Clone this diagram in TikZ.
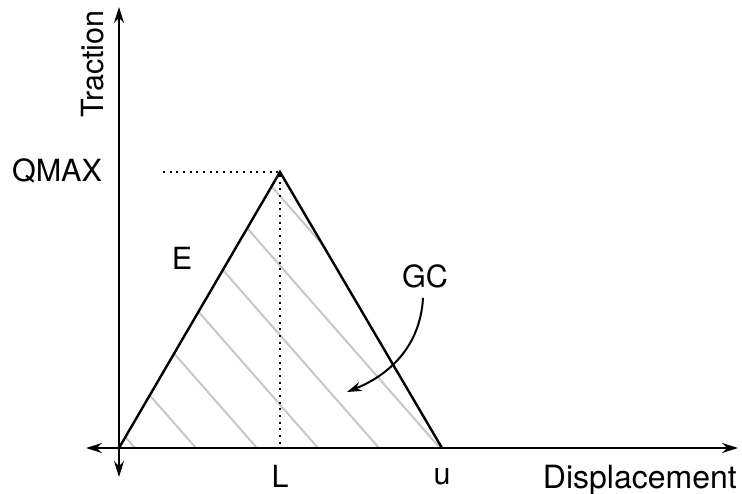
\documentclass[tikz,border=0pt]{standalone}
\usepackage{fontspec}
\setmainfont{TeX Gyre Heros}
\usetikzlibrary{arrows.meta, positioning, calc}

\begin{document}
\begin{tikzpicture}[
	x=0.75pt, y=0.75pt,
	font=\fontsize{22.9}{27}\selectfont,
	axis/.style={line width=1.5pt, {Stealth[length=12pt, width=7.5pt, inset=4pt]}-{Stealth[length=12pt, width=7.5pt, inset=4pt]}},
	law/.style={line width=1.8pt, line join=miter},
	guide/.style={line width=1.5pt, dash pattern=on 1.5pt off 3.5pt},
	hatch/.style={line width=1.5pt, black!22},
	lbl/.style={inner sep=0pt, anchor=base},
	pointer/.style={line width=1.5pt, -{Stealth[length=11pt, width=7pt, inset=3.5pt]}}
]

\useasboundingbox (-119,-45) rectangle (623,448);

% Points
\coordinate (O) at (0,0);
\coordinate (xmin) at (-33,0);
\coordinate (xmax) at (619,0);
\coordinate (ymin) at (0,-29);
\coordinate (ymax) at (0,441);
\coordinate (peak) at (161,276);
\coordinate (fail) at (323,0);
\coordinate (qstart) at (44,276);
\coordinate (lfoot) at (161,0);
\coordinate (gcarrow) at (228,56);

% Hatching
\begin{scope}
\clip (O) -- (peak) -- (fail) -- cycle;
\foreach \s in {16,77,...,382}
	\draw[hatch] (\s,0) -- ++(-300,342);
\end{scope}

% Axes
\draw[axis] (xmin) -- (xmax);
\draw[axis] (ymin) -- (ymax);

% Law
\draw[law] (O) -- (peak) -- (fail);
\draw[guide] (qstart) -- (peak) -- (lfoot);

% Labels
\node[lbl, rotate=90] (traction) at (-16,384) {Traction};
\node[lbl] (qmax) at (-62,266) {QMAX};
\node[lbl] (elab) at (63,179) {E};
\node[lbl] (llab) at (161,-39) {L};
\node[lbl] (ulab) at (323,-36) {u};
\node[lbl, anchor=base east, font=\fontsize{24}{28}\selectfont] (disp) at (618,-40) {Displacement};
\node[lbl] (gc) at (306,161) {GC};

% Energy pointer
\draw[pointer] ($(gc.south)+(-2,-10)$) to[out=-93, in=22] (gcarrow);

\end{tikzpicture}
\end{document}
